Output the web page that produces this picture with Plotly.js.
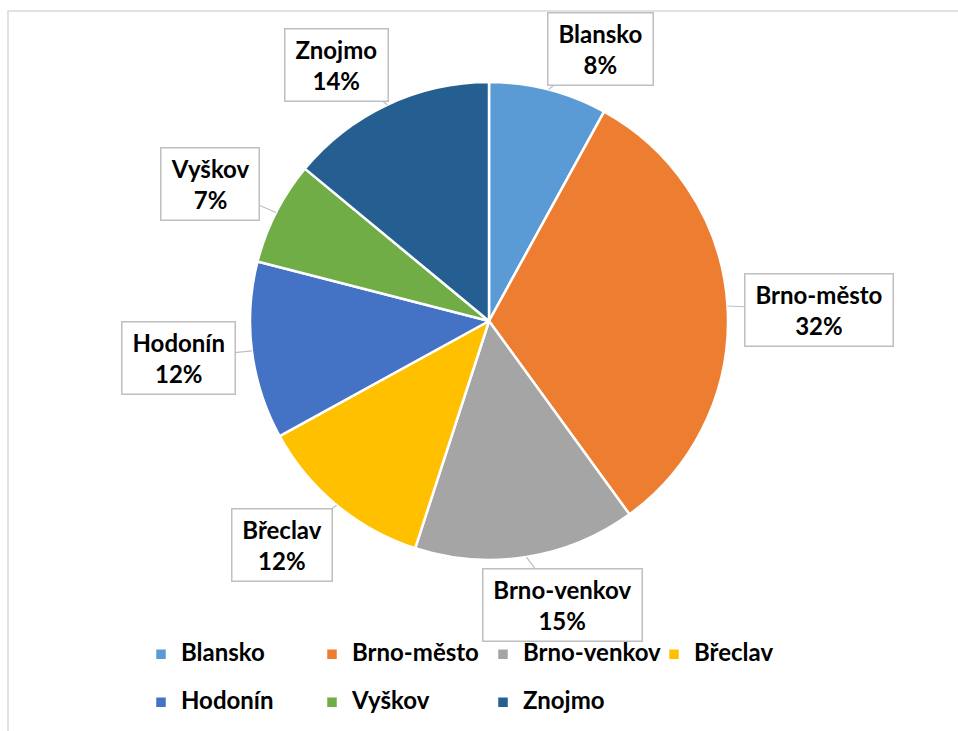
<!DOCTYPE html>
<html><head><meta charset="utf-8">
<script src="https://cdn.plot.ly/plotly-3.0.1.min.js"></script>
<style>html,body{margin:0;padding:0;background:#fff}#chart{width:958px;height:731px}</style>
</head><body><div id="chart"></div>
<script>
const labels = ['Blansko','Brno-město','Brno-venkov','Břeclav','Hodonín','Vyškov','Znojmo'];
const values = [8,32,15,12,12,7,14];
const colors = ['#5B9BD5','#ED7D31','#A5A5A5','#FFC000','#4472C4','#70AD47','#255E91'];
// callout placement tweaks (degrees, relative to slice mid-angle)
const calloutNudgeDeg = [7.9,1.7,-5.5,3.1,0.4,-0.8,-5.6];

const W=958, H=731;
const ML=100, MR=100, MT=0, MB=0;           // margins (keep legend to 4 entries per row)
const PW=W-ML-MR, PH=H-MT-MB;
const px2x = px => (px-ML)/PW;
const py2y = py => 1-(py-MT)/PH;

const pieCx=489, pieCy=321, pieR=239;
const FONT='Lato, "Open Sans", sans-serif';
const total = values.reduce((a,b)=>a+b,0);
const ctx = document.createElement('canvas').getContext('2d');
ctx.font = 'bold 24px Lato';
const pad=4, bw=1.5, gap=16;
let cum=0;
const annotations = labels.map((lab,i)=>{
  const pct = Math.round(values[i]/total*100)+'%';
  const mid = (cum + values[i]/2)/total*360; cum += values[i];
  const a = mid*Math.PI/180;
  const tx = pieCx + pieR*Math.sin(a), ty = pieCy - pieR*Math.cos(a);
  const textW = Math.max(ctx.measureText(lab).width, ctx.measureText(pct).width);
  const boxW = textW + 12, boxH = 63;
  const hw = boxW/2 + pad + bw, hh = boxH/2 + pad + bw;
  const b = (mid + calloutNudgeDeg[i])*Math.PI/180;
  const ux=Math.sin(b), uy=-Math.cos(b);
  const t = Math.min(Math.abs(ux)>1e-6 ? hw/Math.abs(ux) : 1e9, Math.abs(uy)>1e-6 ? hh/Math.abs(uy) : 1e9);
  const bx = pieCx + (pieR+gap+t)*ux;
  let by = pieCy + (pieR+gap+t)*uy;
  by = Math.max(by, 12 + hh);
  return {x: px2x(tx), y: py2y(ty), xref:'paper', yref:'paper', ax: bx-tx, ay: by-ty,
    showarrow:true, arrowhead:0, arrowwidth:1.2, arrowcolor:'#BFBFBF', standoff:0,
    text: lab+'<br>'+pct, font:{family:FONT,size:24,weight:'bold',color:'#000'},
    bgcolor:'#fff', bordercolor:'#BFBFBF', borderwidth:bw, borderpad:pad,
    width: boxW, height: boxH, align:'center', valign:'middle'};
});

// legend entries: a blank first line gives the 48px row pitch of the reference legend
const legendNames = labels.map(l => '&nbsp;<br><span style="font-size:24px">'+l+'</span>');

const trace = {
  type:'pie', labels: legendNames, values: values, sort:false, direction:'clockwise', rotation:0,
  marker:{colors: colors, line:{color:'#fff', width:2.5}},
  textinfo:'none', hoverinfo:'skip',
  domain:{x:[px2x(pieCx-pieR), px2x(pieCx+pieR)], y:[py2y(pieCy+pieR), py2y(pieCy-pieR)]}
};

const layout = {
  width:W, height:H, margin:{l:ML,r:MR,t:MT,b:MB}, paper_bgcolor:'#fff', plot_bgcolor:'#fff',
  showlegend:true,
  legend:{orientation:'h', x:px2x(483), xanchor:'center', y:py2y(614), yanchor:'top',
    font:{family:FONT, size:17.3, weight:'bold', color:'#000'},
    entrywidth:126, entrywidthmode:'pixels', valign:'bottom', bgcolor:'rgba(0,0,0,0)'},
  annotations: annotations,
  shapes:[{type:'rect', xref:'paper', yref:'paper', x0:px2x(8), x1:px2x(W+10), y0:py2y(H+10), y1:py2y(11),
    line:{color:'#D9D9D9', width:1.5}, fillcolor:'rgba(0,0,0,0)', layer:'below'}]
};
Plotly.newPlot('chart',[trace],layout,{displayModeBar:false, staticPlot:true});
</script></body></html>
